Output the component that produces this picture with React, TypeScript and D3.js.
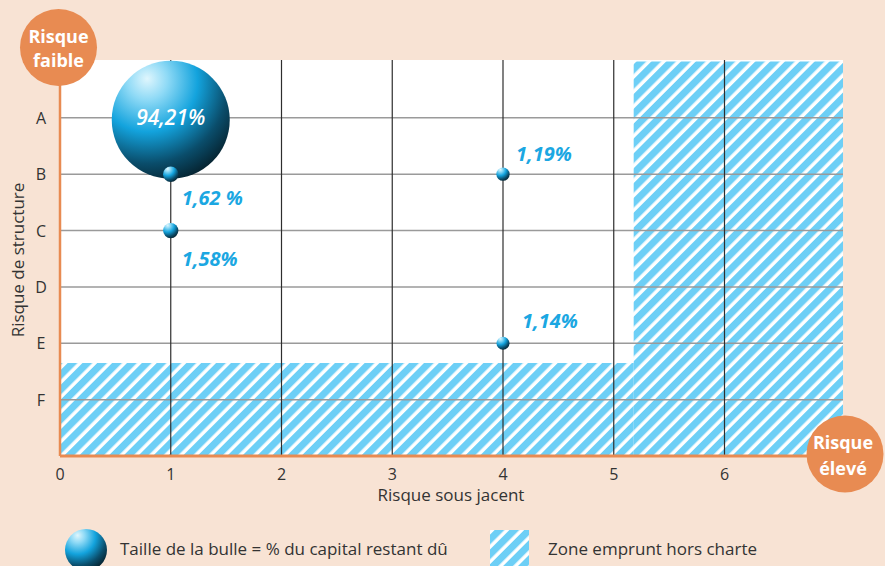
import React from "react";
import * as d3 from "d3";

// ---- data ----
const rowLabels = ["A", "B", "C", "D", "E", "F"];
const xTicks = [0, 1, 2, 3, 4, 5, 6];
const bubbleX = [1, 1, 1, 4, 4];
const bubbleRow = ["A", "B", "C", "B", "E"];
const bubbleValue = [94.21, 1.62, 1.58, 1.19, 1.14];
const bubbleText = ["94,21%", "1,62 %", "1,58%", "1,19%", "1,14%"];
// hatched zones (x in risk units, y in row units where A=1 ... F=6)
const zoneX0 = [0, 5.18];
const zoneX1 = [5.18, 7.07];
const zoneY0 = [5.35, 0];
const zoneY1 = [7, 7];

const W = 885;
const H = 566;
const FONT = "'Open Sans', sans-serif";
const ORANGE = "#e88b52";
const BG = "#f8e3d4";
const STRIPE = "#6dcff6";
const LABEL_BLUE = "#1ba7e2";
const TEXT = "#333333";

export default function App() {
  const x = d3.scaleLinear().domain([0, 7.07]).range([60, 843]);
  const y = d3.scaleLinear().domain([0, 7]).range([61.5, 456]);
  const rowPos = (r: string) => rowLabels.indexOf(r) + 1;
  const r = d3.scaleSqrt().domain([0, 94.21]).range([0, 59]);

  // label offsets (layout only)
  const labelDx = [0, 11, 11, 13, 19];
  const labelDy = [7, 31, 35, -13, -15];

  return (
    <svg width={W} height={H} style={{ display: "block", position: "absolute", left: 0, top: 0 }}>
      <defs>
        <pattern id="hatch" patternUnits="userSpaceOnUse" width={10.5} height={10.5} patternTransform="rotate(45)">
          <rect x={0} y={0} width={10.5} height={10.5} fill="#ffffff" />
          <rect x={0} y={0} width={7} height={10.5} fill={STRIPE} />
        </pattern>
        <radialGradient id="ball" cx="0.3" cy="0.2" r="0.95" fx="0.3" fy="0.15">
          <stop offset="0" stopColor="#dff6fd" />
          <stop offset="0.18" stopColor="#8fdaf6" />
          <stop offset="0.45" stopColor="#13a3dd" />
          <stop offset="0.72" stopColor="#0a4d6b" />
          <stop offset="0.9" stopColor="#062634" />
          <stop offset="1" stopColor="#041c27" />
        </radialGradient>
      </defs>
      <rect x={0} y={0} width={W} height={H} fill={BG} />
      {/* plot area */}
      <rect x={x(0)} y={60} width={x(7.07) - x(0)} height={y(7) - 60} fill="#ffffff" />
      {zoneX0.map((_, i) => (
        <rect
          key={"z" + i}
          x={x(zoneX0[i])}
          y={y(zoneY0[i])}
          width={x(zoneX1[i]) - x(zoneX0[i])}
          height={y(zoneY1[i]) - y(zoneY0[i])}
          fill="url(#hatch)"
        />
      ))}
      {/* horizontal grid */}
      {rowLabels.map((lab, i) => (
        <line key={"h" + lab} x1={x(0)} x2={x(7.07)} y1={y(i + 1)} y2={y(i + 1)} stroke="#9a9a9a" strokeWidth={1.5} />
      ))}
      {/* vertical grid */}
      {xTicks.filter((t) => t > 0).map((t) => (
        <line key={"v" + t} x1={x(t)} x2={x(t)} y1={60} y2={y(7)} stroke="#2e2e2e" strokeWidth={1.2} />
      ))}
      {/* orange axes */}
      <line x1={x(0)} x2={x(0)} y1={70} y2={y(7)} stroke={ORANGE} strokeWidth={2.5} />
      <line x1={x(0)} x2={820} y1={y(7)} y2={y(7)} stroke={ORANGE} strokeWidth={3} />
      {/* y tick labels */}
      {rowLabels.map((lab, i) => (
        <text key={"yl" + lab} x={41} y={y(i + 1) + 6} textAnchor="middle" fontFamily={FONT} fontSize={16} fill={TEXT}>
          {lab}
        </text>
      ))}
      {/* x tick labels */}
      {xTicks.map((t) => (
        <text key={"xl" + t} x={x(t)} y={480} textAnchor="middle" fontFamily={FONT} fontSize={16} fill={TEXT}>
          {t}
        </text>
      ))}
      <text x={451} y={501} textAnchor="middle" fontFamily={FONT} fontSize={17} fill={TEXT}>
        Risque sous jacent
      </text>
      <text
        transform={`translate(24,260) rotate(-90)`}
        textAnchor="middle"
        fontFamily={FONT}
        fontSize={17}
        fill={TEXT}
      >
        Risque de structure
      </text>
      {/* bubbles */}
      {bubbleValue.map((v, i) => (
        <circle key={"b" + i} cx={x(bubbleX[i])} cy={y(rowPos(bubbleRow[i])) + (i === 0 ? 2 : 0)} r={r(v)} fill="url(#ball)" />
      ))}
      {bubbleValue.map((v, i) => (
        <text
          key={"bt" + i}
          x={x(bubbleX[i]) + labelDx[i]}
          y={y(rowPos(bubbleRow[i])) + labelDy[i]}
          textAnchor={i === 0 ? "middle" : "start"}
          fontFamily={FONT}
          fontStyle="italic"
          fontWeight={i === 0 ? 600 : 700}
          fontSize={i === 0 ? 21 : 20}
          fill={i === 0 ? "#ffffff" : LABEL_BLUE}
        >
          {bubbleText[i]}
        </text>
      ))}
      {/* corner circles */}
      <circle cx={58.5} cy={47.5} r={38.5} fill={ORANGE} />
      <text x={58.5} y={43} textAnchor="middle" fontFamily={FONT} fontWeight={700} fontSize={18} fill="#ffffff">
        Risque
      </text>
      <text x={58.5} y={67} textAnchor="middle" fontFamily={FONT} fontWeight={700} fontSize={18} fill="#ffffff">
        faible
      </text>
      <circle cx={845} cy={454} r={38.5} fill={ORANGE} />
      <text x={843} y={449} textAnchor="middle" fontFamily={FONT} fontWeight={700} fontSize={18} fill="#ffffff">
        Risque
      </text>
      <text x={843} y={475} textAnchor="middle" fontFamily={FONT} fontWeight={700} fontSize={18} fill="#ffffff">
        élevé
      </text>
      {/* legend */}
      <circle cx={86} cy={550} r={21} fill="url(#ball)" />
      <text x={120} y={555} fontFamily={FONT} fontSize={17} fill={TEXT}>
        Taille de la bulle = % du capital restant dû
      </text>
      <rect x={490} y={530} width={39} height={36} fill="url(#hatch)" />
      <text x={548} y={555} fontFamily={FONT} fontSize={17} fill={TEXT}>
        Zone emprunt hors charte
      </text>
    </svg>
  );
}
